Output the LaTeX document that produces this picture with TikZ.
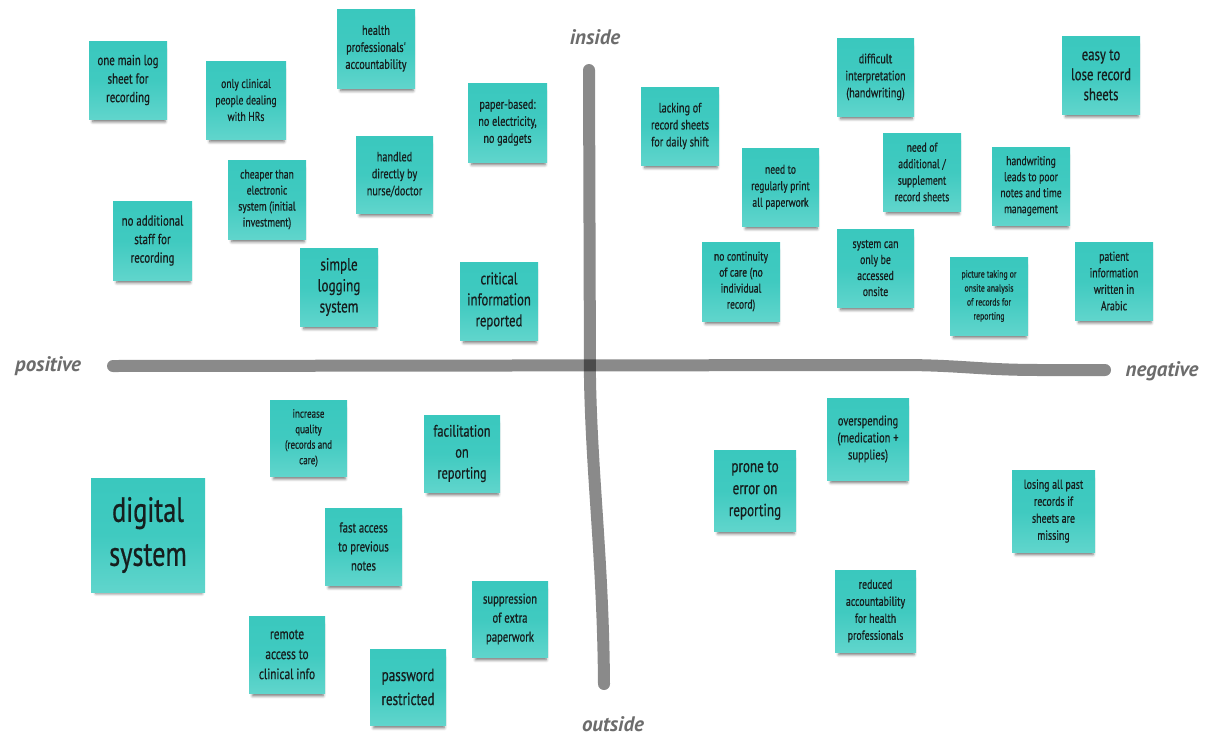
\documentclass[tikz,border=0pt]{standalone}
\usepackage{fontspec}
\setmainfont{PT Sans}
\newfontfamily\hand[FakeStretch=0.75, FakeBold=0.6]{PT Sans}
\usetikzlibrary{shadows.blur}

\definecolor{notetop}{RGB}{58,200,190}
\definecolor{notebottom}{RGB}{96,213,204}
\definecolor{notetext}{RGB}{22,30,30}
\definecolor{axislabel}{RGB}{108,108,108}

\newcommand\notefont[2]{\hand\fontsize{#1}{#2}\selectfont}
% \stickynote{name}{cx}{cy}{width}{height}{size}{leading}{text}
\newcommand\stickynote[8]{%
  \node[sticky, minimum width=#4pt, minimum height=#5pt,
        font=\notefont{#6}{#7}] (#1) at (#2,#3) {#8};}

\tikzset{
  sticky/.style={rectangle, inner sep=0pt, align=center, text=notetext,
    top color=notetop, bottom color=notebottom, middle color=notetop!85!notebottom,
    blur shadow={shadow xshift=1pt, shadow yshift=-6pt, shadow scale=0.93,
      shadow opacity=55, shadow blur radius=3pt}},
  axisline/.style={line width=12pt, line cap=round, black, opacity=0.46},
  axistext/.style={text=axislabel, font=\fontsize{21}{25}\selectfont\bfseries\itshape}
}

\begin{document}
\begin{tikzpicture}[x=1pt, y=-1pt]
\useasboundingbox (0,0) rectangle (1213,737);

% axes
\coordinate (hleft) at (113,366);
\coordinate (hmid) at (900,365);
\coordinate (hbend) at (1040,370);
\coordinate (hright) at (1105,370);
\coordinate (vtop) at (589,70);
\coordinate (vmid) at (590,380);
\coordinate (vbottom) at (604,684);
\draw[axisline] (hleft) -- (hmid) .. controls (960,365) and (980,370) .. (hbend) -- (hright);
\draw[axisline] (vtop) -- (vmid) .. controls (592,480) and (603,560) .. (vbottom);

\node[axistext] (inside) at (595,37) {inside};
\node[axistext] (outside) at (613,724) {outside};
\node[axistext] (positive) at (48,366) {positive};
\node[axistext] (negative) at (1162,371) {negative};

% positive / inside
\stickynote{logsheet}{128}{80}{78}{78}{14.5}{18.5}{one main log\\sheet for\\recording}
\stickynote{clinical}{246}{100}{80}{78}{12.8}{16.5}{only clinical\\people dealing\\with HRs}
\stickynote{accountable}{376}{48.5}{78}{79}{13.6}{17}{health\\professionals'\\accountability}
\stickynote{handled}{394.5}{174.5}{77}{77}{13.6}{17}{handled\\directly by\\nurse/doctor}
\stickynote{cheaper}{267}{199.5}{78}{79}{12.8}{16}{cheaper than\\electronic\\system (initial\\investment)}
\stickynote{nostaff}{152.5}{240.5}{79}{79}{14.5}{18.5}{no additional\\staff for\\recording}
\stickynote{simple}{339}{287}{78}{78}{17.5}{21}{simple\\logging\\system}
\stickynote{paper}{507.5}{122.5}{79}{79}{13.6}{17}{paper-based:\\no electricity,\\no gadgets}
\stickynote{critical}{499}{301}{78}{78}{17}{21}{critical\\information\\reported}

% negative / inside
\stickynote{lacking}{680}{126}{78}{78}{13.6}{17}{lacking of\\record sheets\\for daily shift}
\stickynote{print}{780.5}{187}{77}{78}{12.8}{16.5}{need to\\regularly print\\all paperwork}
\stickynote{continuity}{741}{281.5}{78}{79}{12.8}{16}{no continuity\\of care (no\\individual\\record)}
\stickynote{difficult}{875.5}{77}{77}{78}{13.6}{17}{difficult\\interpretation\\(handwriting)}
\stickynote{lose}{1101}{75}{78}{78}{17}{20}{easy to\\lose record\\sheets}
\stickynote{additional}{922}{172}{78}{78}{12.8}{16.5}{need of\\additional /\\supplement\\record sheets}
\stickynote{handwriting}{1031}{186}{78}{78}{12.8}{16}{handwriting\\leads to poor\\notes and time\\management}
\stickynote{onsite}{875.5}{268}{77}{78}{13}{16}{system can\\only be\\accessed\\onsite}
\stickynote{picture}{989}{296}{78}{78}{10.4}{14}{picture taking or\\onsite analysis\\of records for\\reporting}
\stickynote{arabic}{1114}{281}{78}{78}{13}{16.5}{patient\\information\\written in\\Arabic}

% positive / outside
\stickynote{quality}{308.5}{438}{77}{76}{12}{15.5}{increase\\quality\\(records and\\care)}
\stickynote{digital}{148}{535}{114}{114}{35}{44}{digital\\system}
\stickynote{fastaccess}{363.5}{546.5}{77}{77}{14.2}{19}{fast access\\to previous\\notes}
\stickynote{remote}{287}{654.5}{76}{77}{15}{20}{remote\\access to\\clinical info}
\stickynote{password}{408}{687}{76}{76}{17.5}{24}{password\\restricted}
\stickynote{facilitation}{462}{453.5}{76}{77}{16.5}{21}{facilitation\\on\\reporting}
\stickynote{suppression}{510}{619}{76}{76}{14.2}{19}{suppression\\of extra\\paperwork}

% negative / outside
\stickynote{prone}{755}{490.5}{82}{81}{17.5}{22}{prone to\\error on\\reporting}
\stickynote{overspending}{868}{439}{82}{82}{14}{17}{overspending\\(medication +\\supplies)}
\stickynote{losing}{1053.5}{511}{83}{82}{13.2}{17}{losing all past\\records if\\sheets are\\missing}
\stickynote{reduced}{875.5}{611}{81}{82}{13.2}{17}{reduced\\accountability\\for health\\professionals}
\end{tikzpicture}
\end{document}
